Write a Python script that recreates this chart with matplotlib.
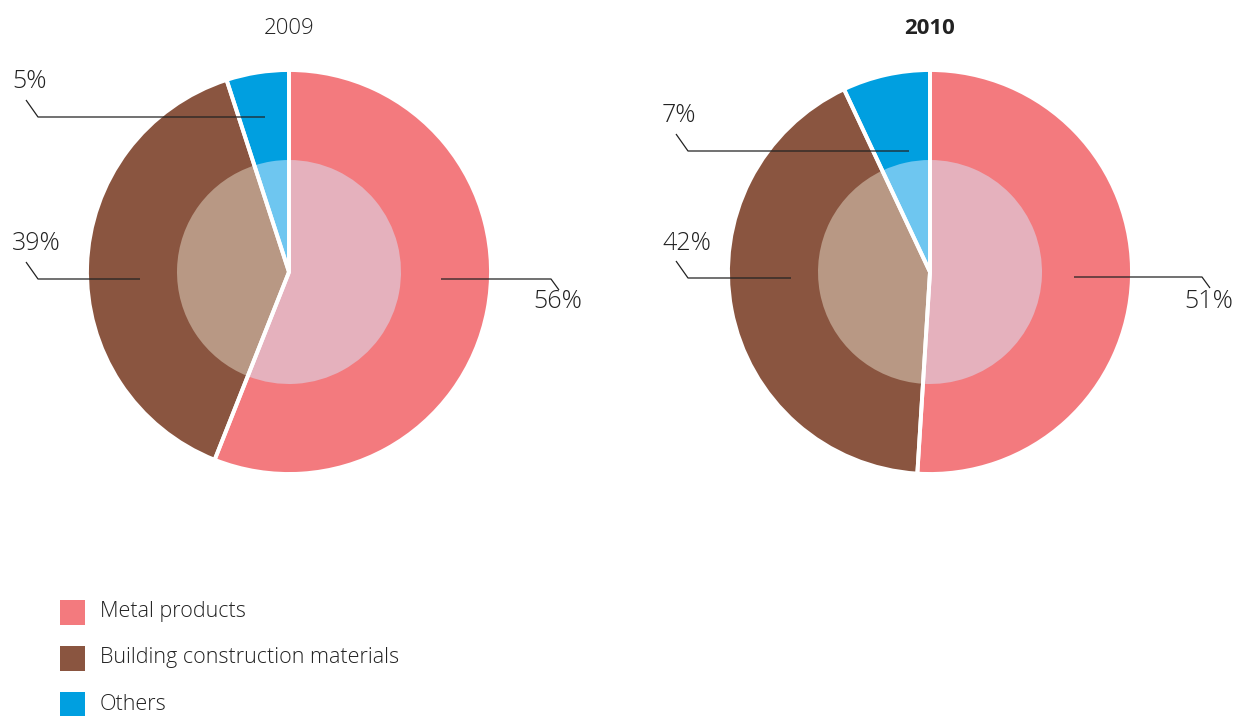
import matplotlib
matplotlib.use('Agg')
import matplotlib.pyplot as plt
from matplotlib.patches import Rectangle

plt.rcParams['font.family'] = ['Open Sans', 'DejaVu Sans']

# data
categories = ['Metal products', 'Building construction materials', 'Others']
years = ['2009', '2010']
shares_2009 = [56, 39, 5]
shares_2010 = [51, 42, 7]
outer_colors = ['#F37A7E', '#8A5540', '#009FE0']
inner_colors = ['#E5B1BD', '#B89884', '#6EC6F0']

W, H = 1237, 716
txt = '#222222'

def Y(y):
    # pixel row (from top) -> data y
    return H - y

fig = plt.figure(figsize=(W / 100, H / 100), dpi=100)
ax = fig.add_axes([0, 0, 1, 1])

R, r = 202, 112
centers = [(289, 272), (930, 272)]
all_shares = [shares_2009, shares_2010]

# label layout: (text x, text y, anchor x, anchor y, side) per slice
# left labels: text x = left edge; right labels: text x = centre
label_layout = [
    [(558, 302, 441, 279, 'r'), (12, 244, 140, 279, 'l'), (12, 82, 265, 117, 'l')],
    [(1209, 302, 1074, 277, 'r'), (662, 243, 791, 279, 'l'), (662, 116, 909, 152, 'l')],
]

for i in range(2):
    cx, cy = centers[i]
    vals = all_shares[i]
    ax.pie(vals, colors=outer_colors, radius=R, center=(cx, Y(cy)),
           startangle=90, counterclock=False, wedgeprops=dict(linewidth=0))
    ax.pie(vals, colors=inner_colors, radius=r, center=(cx, Y(cy)),
           startangle=90, counterclock=False, wedgeprops=dict(linewidth=0))
    ax.pie(vals, colors=['none'] * 3, radius=R, center=(cx, Y(cy)),
           startangle=90, counterclock=False,
           wedgeprops=dict(linewidth=2.8, edgecolor='white', facecolor='none'))
    ax.text(cx, Y(28), years[i], ha='center', va='center', fontsize=16, color=txt,
            fontweight='bold' if i == 1 else 'light')

    for j, v in enumerate(vals):
        tx, ty, axx, ayy, side = label_layout[i][j]
        if side == 'l':
            xs = [tx + 14, tx + 26, axx]
            ys = [ty + 18, ty + 35, ty + 35]
            ax.text(tx, Y(ty), f'{v}%', ha='left', va='center', fontsize=18,
                    color=txt, fontweight='light')
        else:
            xs = [axx, tx - 7, tx + 1]
            ys = [ayy, ayy, ayy + 11]
            ax.text(tx, Y(ty), f'{v}%', ha='center', va='center', fontsize=18,
                    color=txt, fontweight='light')
        ax.plot(xs, [Y(y) for y in ys], color='#222222', linewidth=0.9, solid_capstyle='butt')

# legend
for k, name in enumerate(categories):
    top = 600 + k * 46
    ax.add_patch(Rectangle((60, Y(top + 25)), 25, 25, facecolor=outer_colors[k], edgecolor='none'))
    ax.text(100, Y(top + 12), name, ha='left', va='center', fontsize=15.5, color=txt,
            fontweight='light')

ax.set_xlim(0, W)
ax.set_ylim(0, H)
ax.set_aspect('equal')
ax.axis('off')

fig.savefig('out.png', dpi=100, facecolor='white')
